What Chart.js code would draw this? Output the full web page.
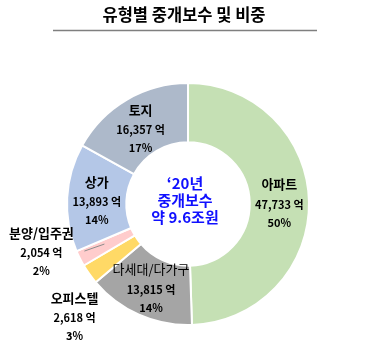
<!DOCTYPE html>
<html>
<head>
<meta charset="utf-8">
<script src="https://cdn.jsdelivr.net/npm/chart.js@4"></script>
<style>
  html, body { margin: 0; padding: 0; background: #fff; }
  #wrap { width: 374px; height: 361px; position: relative; }
</style>
</head>
<body>
<div id="wrap"><canvas id="myChart"></canvas></div>
<script>
// data
const categories = ['아파트', '다세대/다가구', '오피스텔', '분양/입주권', '상가', '토지'];
const amounts = [47733, 13815, 2618, 2054, 13893, 16357];   // 억 원
const shares = [50, 14, 3, 2, 14, 17];                      // %
const centerLines = ['\u201820년', '중개보수', '약 9.6조원'];
const titleText = '유형별 중개보수 및 비중';

const colors = ['#C5E0B4', '#A5A5A5', '#FFD966', '#FFCCCC', '#B4C7E7', '#ADB9CA'];
// label nudges from slice centroid (outside labels for the small slices)
const labelNudge = [[0, 2], [0, 2], [-39, 61], [-65, 8], [0, 3], [-1, 5]];
const FONT = "'Noto Sans CJK KR', 'Noto Sans', sans-serif";

const labelPlugin = {
    id: 'sliceLabels',
    beforeDraw(chart) {
        const ctx = chart.ctx;
        ctx.save();
        ctx.fillStyle = '#000';
        ctx.font = 'bold 16.5px ' + FONT;
        ctx.textAlign = 'center';
        ctx.textBaseline = 'middle';
        ctx.fillText(titleText, 184, 15);
        ctx.strokeStyle = '#7f7f7f';
        ctx.lineWidth = 1.5;
        ctx.beginPath();
        ctx.moveTo(53, 30.5);
        ctx.lineTo(317, 30.5);
        ctx.stroke();
        ctx.restore();
    },
    afterDatasetsDraw(chart) {
        const ctx = chart.ctx;
        const arcs = chart.getDatasetMeta(0).data;
        ctx.save();
        ctx.textAlign = 'center';
        ctx.textBaseline = 'middle';
        let cx = 0, cy = 0;
        arcs.forEach((arc, i) => {
            const p = arc.getProps(['x', 'y', 'startAngle', 'endAngle', 'innerRadius', 'outerRadius'], true);
            cx = p.x; cy = p.y;
            const mid = (p.startAngle + p.endAngle) / 2;
            const r = (p.innerRadius + p.outerRadius) / 2;
            const ax = p.x + Math.cos(mid) * r;
            const ay = p.y + Math.sin(mid) * r;
            const lx = ax + labelNudge[i][0];
            const ly = ay + labelNudge[i][1];

            // leader line for 분양/입주권
            if (i === 3) {
                ctx.strokeStyle = '#8c8c8c';
                ctx.lineWidth = 1;
                ctx.beginPath();
                ctx.moveTo(ax - 22, ay + 6);
                ctx.lineTo(ax - 2, ay - 1);
                ctx.stroke();
            }

            ctx.fillStyle = '#000';
            ctx.font = (i === 1 ? '' : 'bold ') + '13px ' + FONT;
            ctx.fillText(categories[i], lx, ly - 20);
            ctx.font = 'bold 11px ' + FONT;
            ctx.fillText(amounts[i].toLocaleString('en-US') + ' 억', lx, ly);
            ctx.fillText(shares[i] + '%', lx, ly + 18);
        });

        // centre text
        ctx.fillStyle = '#1010ff';
        ctx.font = 'bold 15px ' + FONT;
        centerLines.forEach((t, k) => {
            ctx.fillText(t, cx - 3, cy - 21 + k * 17);
        });
        ctx.restore();
    }
};

const data = {
    labels: categories,
    datasets: [{
        data: amounts,
        backgroundColor: colors,
        borderColor: '#ffffff',
        borderWidth: 2,
        hoverOffset: 0
    }]
};

const config = {
    type: 'doughnut',
    data: data,
    options: {
        responsive: true,
        maintainAspectRatio: false,
        animation: false,
        cutout: '51%',
        layout: { padding: { top: 82, bottom: 35, left: 66, right: 64 } },
        plugins: {
            legend: { display: false },
            tooltip: { enabled: false }
        }
    },
    plugins: [labelPlugin]
};

new Chart(document.getElementById('myChart'), config);
</script>
</body>
</html>
